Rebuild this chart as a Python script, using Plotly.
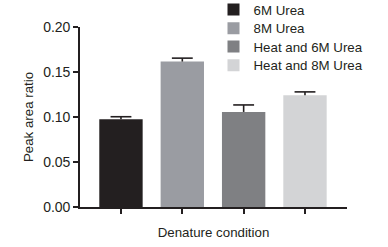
import plotly.graph_objects as go

categories = ["6M Urea", "8M Urea", "Heat and 6M Urea", "Heat and 8M Urea"]
means = [0.0974, 0.1616, 0.1056, 0.1242]
errors = [0.0029, 0.0038, 0.0078, 0.0037]
colors = ["#231f20", "#9a9ca2", "#7f8083", "#d3d4d6"]
y_ticks = [0.0, 0.05, 0.10, 0.15, 0.20]
y_ticklabels = ["0.00", "0.05", "0.10", "0.15", "0.20"]

ink = "#231f20"
font = dict(family="Liberation Sans, Arial, sans-serif", size=13.3, color=ink)
tickfont = dict(family="Liberation Sans, Arial, sans-serif", size=14, color=ink)

legend_names = ["legend", "legend2", "legend3", "legend4"]
legend_rows_y = [1.0956, 0.9917, 0.89, 0.786]

fig = go.Figure()
xs = list(range(len(categories)))
for i, (cat, m, c) in enumerate(zip(categories, means, colors)):
    fig.add_trace(go.Bar(x=[xs[i]], y=[m], name=cat, marker=dict(color=c, line=dict(width=0)),
                         width=0.707, legend=legend_names[i]))

# one-sided (upper) error bars with a cap
cap = 0.17
ex, ey = [], []
for i, (m, e) in enumerate(zip(means, errors)):
    ex += [xs[i], xs[i], None, xs[i] - cap, xs[i] + cap, None]
    ey += [m, m + e, None, m + e, m + e, None]
fig.add_trace(go.Scatter(x=ex, y=ey, mode="lines", line=dict(color=ink, width=1.6),
                         showlegend=False, hoverinfo="skip"))

legend_layout = {}
for name, ly in zip(legend_names, legend_rows_y):
    legend_layout[name] = dict(x=0.5, y=ly, xanchor="left", yanchor="middle", font=font,
                               bgcolor="rgba(0,0,0,0)")

fig.update_layout(
    width=388, height=247,
    margin=dict(l=80, r=41, t=27, b=40, autoexpand=False),
    paper_bgcolor="white", plot_bgcolor="white",
    font=font,
    barmode="overlay",
    showlegend=True,
    **legend_layout,
)
fig.update_xaxes(
    range=[-0.668, 3.685], tickvals=xs, ticktext=["", "", "", ""],
    showline=True, linecolor=ink, linewidth=1.6, ticks="outside", ticklen=5,
    tickwidth=1.6, tickcolor=ink, showgrid=False, zeroline=False,
    title=dict(text="Denature condition", font=font, standoff=12),
)
fig.update_yaxes(
    range=[0, 0.2], tickvals=y_ticks, ticktext=y_ticklabels,
    showline=True, linecolor=ink, linewidth=1.6, ticks="outside", ticklen=5,
    tickwidth=1.6, tickcolor=ink, showgrid=False, zeroline=False,
    tickfont=tickfont,
    title=dict(text="Peak area ratio", font=font, standoff=6),
)

fig.write_html("out.html", config={"displayModeBar": False},
               post_script="document.body.style.margin='0';document.body.style.overflow='hidden';")
